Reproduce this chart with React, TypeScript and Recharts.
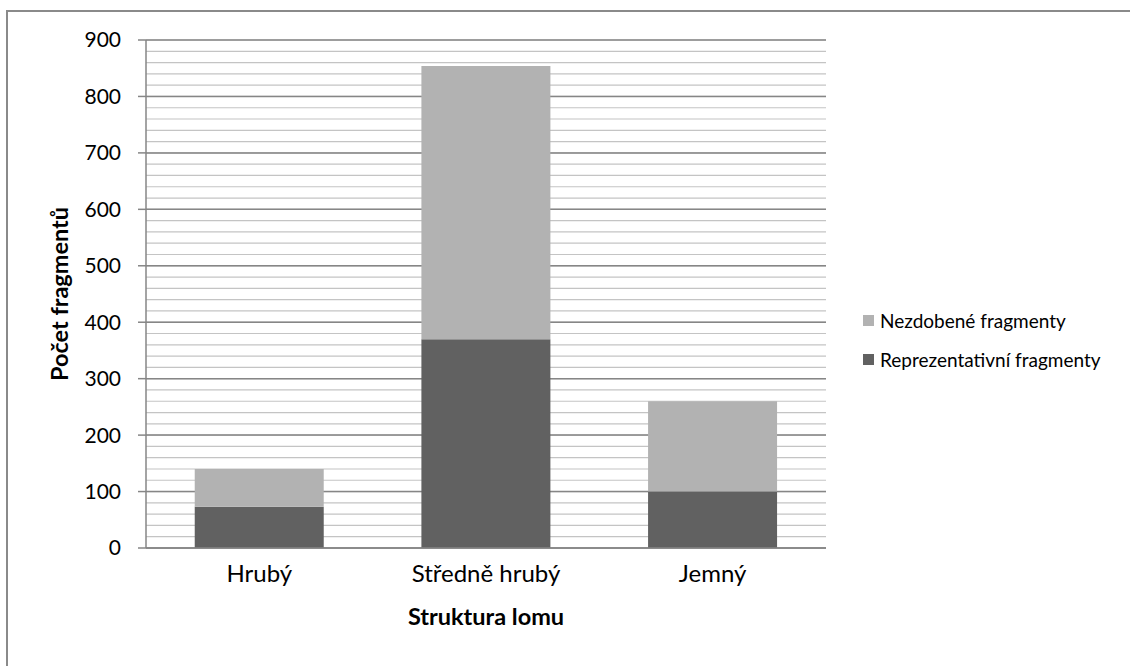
import React from "react";
import { BarChart, Bar, XAxis, YAxis, CartesianGrid, Label } from "recharts";

const categories = ["Hrubý", "Středně hrubý", "Jemný"];
const reprezentativni = [73, 370, 100];
const nezdobene = [67, 484, 160];
const yTicks = [0, 100, 200, 300, 400, 500, 600, 700, 800, 900];
const minorTicks = Array.from({ length: 46 }, (_, i) => i * 20);

const SERIES = [
  { key: "nezdobene", name: "Nezdobené fragmenty", color: "#b2b2b2" },
  { key: "reprezentativni", name: "Reprezentativní fragmenty", color: "#616161" },
];

const data = categories.map((c, i) => ({
  name: c,
  reprezentativni: reprezentativni[i],
  nezdobene: nezdobene[i],
}));

const FONT = "Lato, 'Open Sans', sans-serif";

export default function App() {
  return (
    <div style={{ position: "absolute", left: 0, top: 0, width: 1130, height: 666, overflow: "hidden", background: "#fff" }}>
      <div style={{ position: "absolute", left: 6, top: 10, width: 1200, height: 800, border: "2px solid #8a8a8a", boxSizing: "border-box" }} />
      <div style={{ position: "absolute", left: 0, top: 0 }}>
        <BarChart
          width={1130}
          height={666}
          data={data}
          margin={{ top: 40, right: 304, bottom: 48, left: 0 }}
          barCategoryGap="21.5%"
        >
          <CartesianGrid vertical={false} horizontalValues={minorTicks} stroke="#c4c4c4" strokeWidth={1.2} />
          <CartesianGrid vertical={false} horizontalValues={yTicks} stroke="#868686" strokeWidth={1.5} />
          <XAxis
            dataKey="name"
            height={70}
            axisLine={{ stroke: "#868686", strokeWidth: 1.5 }}
            tickLine={false}
            tick={{ fill: "#000", fontSize: 24, fontFamily: FONT }}
            tickMargin={11}
          >
            <Label
              value="Struktura lomu"
              position="insideBottom"
              offset={-7}
              style={{ fontFamily: FONT, fontSize: 23.5, fontWeight: "bold", fill: "#000" }}
            />
          </XAxis>
          <YAxis
            width={146}
            domain={[0, 900]}
            ticks={yTicks}
            interval={0}
            axisLine={{ stroke: "#868686", strokeWidth: 1.5 }}
            tickLine={{ stroke: "#868686", strokeWidth: 1.5 }}
            tickSize={8}
            tickMargin={17}
            tick={{ fill: "#000", fontSize: 21, fontFamily: FONT }}
          >
            <Label
              value="Počet fragmentů"
              angle={-90}
              position="center"
              dx={-13}
              style={{ fontFamily: FONT, fontSize: 23.5, fontWeight: "bold", fill: "#000", textAnchor: "middle" }}
            />
          </YAxis>
          <Bar dataKey="reprezentativni" name="Reprezentativní fragmenty" stackId="a" fill="#616161" isAnimationActive={false} />
          <Bar dataKey="nezdobene" name="Nezdobené fragmenty" stackId="a" fill="#b2b2b2" isAnimationActive={false} />
        </BarChart>
      </div>
      <div style={{ position: "absolute", left: 863, top: 301, fontFamily: FONT, fontSize: 19, color: "#000" }}>
        {SERIES.map((s) => (
          <div key={s.key} style={{ display: "flex", alignItems: "center", height: 39, whiteSpace: "nowrap" }}>
            <span style={{ width: 11, height: 11, background: s.color, display: "inline-block", marginRight: 6 }} />
            <span>{s.name}</span>
          </div>
        ))}
      </div>
    </div>
  );
}
